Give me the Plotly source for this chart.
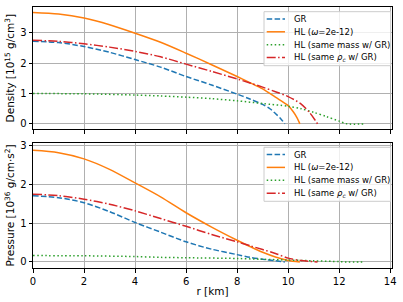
import plotly.graph_objects as go
from plotly.subplots import make_subplots

# ---------------- data ----------------
# Density [1e15 g/cm^3]
r_rho_gr = [0, 1, 2, 3, 4, 5, 6, 7, 8, 8.5, 9, 9.3, 9.5, 9.7, 9.87]
rho_gr = [2.72, 2.68, 2.55, 2.36, 2.12, 1.87, 1.56, 1.28, 0.98, 0.82, 0.64, 0.49, 0.34, 0.18, 0.0]

r_rho_hl = [0, 1, 2, 3, 4, 5, 6, 7, 8, 8.5, 9, 9.5, 10, 10.2, 10.35, 10.46]
rho_hl = [3.67, 3.62, 3.49, 3.27, 2.99, 2.69, 2.33, 1.95, 1.56, 1.36, 1.15, 0.88, 0.60, 0.40, 0.20, 0.0]

r_rho_mass = [0, 2, 4, 5, 6, 7, 8, 9, 10, 10.5, 11, 11.5, 12, 12.3, 13.0]
rho_mass = [1.00, 0.99, 0.95, 0.92, 0.88, 0.83, 0.76, 0.67, 0.58, 0.50, 0.38, 0.24, 0.09, 0.0, 0.0]

r_rho_rhoc = [0, 1, 2, 3, 4, 5, 6, 7, 8, 8.5, 9, 9.5, 10, 10.5, 10.85, 11.05, 11.15]
rho_rhoc = [2.76, 2.72, 2.64, 2.53, 2.39, 2.21, 1.97, 1.73, 1.48, 1.35, 1.21, 1.06, 0.90, 0.66, 0.36, 0.13, 0.0]

# Pressure [1e36 g/cm s^2]
r_p_gr = [0, 1, 2, 3, 4, 5, 6, 7, 8, 8.5, 9, 9.5, 9.87]
p_gr = [1.71, 1.66, 1.53, 1.30, 1.02, 0.77, 0.52, 0.33, 0.19, 0.12, 0.07, 0.03, 0.0]

r_p_hl = [0, 1, 2, 3, 4, 5, 6, 7, 8, 8.5, 9, 9.5, 10, 10.46]
p_hl = [2.88, 2.82, 2.66, 2.39, 2.04, 1.68, 1.27, 0.90, 0.56, 0.40, 0.25, 0.13, 0.04, 0.0]

r_p_mass = [0, 2, 4, 5, 6, 8, 9, 10, 11, 12, 12.3, 13.0]
p_mass = [0.165, 0.16, 0.14, 0.12, 0.11, 0.09, 0.07, 0.05, 0.03, 0.01, 0.0, 0.0]

r_p_rhoc = [0, 1, 2, 3, 4, 5, 6, 7, 8, 8.5, 9, 9.5, 10, 10.5, 11.15]
p_rhoc = [1.75, 1.71, 1.62, 1.49, 1.32, 1.12, 0.92, 0.71, 0.52, 0.42, 0.32, 0.22, 0.10, 0.04, 0.0]

names = ["GR", "HL (<i>ω</i>=2e-12)", "HL (same mass w/ GR)", "HL (same <i>ρ<sub>c</sub></i> w/ GR)"]
colors = ["#1f77b4", "#ff7f0e", "#2ca02c", "#d62728"]
dashes = ["5.5px,2.4px", "solid", "1.5px,2.5px", "9px,2.4px,1.5px,2.4px"]

x_ticks = [0, 2, 4, 6, 8, 10, 12, 14]
y_ticks = [0, 1, 2, 3]

# ---------------- figure ----------------
W, H = 403, 302
ML, MR, MT, MB = 33, 11, 7, 34
fig = make_subplots(rows=2, cols=1, shared_xaxes=True, vertical_spacing=0.05)

top_series = [(r_rho_gr, rho_gr), (r_rho_hl, rho_hl), (r_rho_mass, rho_mass), (r_rho_rhoc, rho_rhoc)]
bot_series = [(r_p_gr, p_gr), (r_p_hl, p_hl), (r_p_mass, p_mass), (r_p_rhoc, p_rhoc)]

for row, series in ((1, top_series), (2, bot_series)):
    for i, (xs, ys) in enumerate(series):
        fig.add_trace(go.Scatter(x=xs, y=ys, mode="lines", name=names[i], showlegend=False,
                                 line=dict(color=colors[i], width=1.5, dash=dashes[i],
                                           shape="spline", smoothing=0.8),
                                 hoverinfo="skip"), row=row, col=1)

font = dict(family="DejaVu Sans", size=10, color="black")
title_font = dict(family="DejaVu Sans", size=10.5, color="black")
axis_common = dict(showline=True, linecolor="black", linewidth=1, mirror=True,
                   ticks="outside", ticklen=3.5, tickwidth=1, tickcolor="black",
                   showgrid=True, gridcolor="#b0b0b0", gridwidth=1, zeroline=False,
                   tickfont=font, automargin=False)

fig.update_xaxes(range=[0, 14.07], tickvals=x_ticks, **axis_common)
fig.update_xaxes(showticklabels=False, row=1, col=1)
fig.update_xaxes(title=dict(text="r [km]", font=title_font, standoff=2), row=2, col=1)
fig.update_yaxes(tickvals=y_ticks, **axis_common)
fig.update_yaxes(range=[-0.1835, 3.8535], domain=[0.531, 1.0],
                 title=dict(text="Density [10<sup>15</sup> g/cm<sup>3</sup>]",
                            font=title_font, standoff=3), row=1, col=1)
fig.update_yaxes(range=[-0.155, 3.07], domain=[0.0, 0.479],
                 title=dict(text="Pressure [10<sup>36</sup> g/cm·s<sup>2</sup>]",
                            font=title_font, standoff=3), row=2, col=1)

# ---------------- legends (drawn as boxes, line samples and text) ----------------
PW = W - ML - MR
PH = H - MT - MB


def px_x(p):
    return (p - ML) / PW


def px_y(p):
    return (H - MB - p) / PH


shapes = []
annotations = []
for box_top in (11.7, 147.3):
    shapes.append(dict(type="rect", xref="paper", yref="paper",
                       x0=px_x(264), x1=px_x(390.7), y0=px_y(box_top + 54), y1=px_y(box_top),
                       fillcolor="rgba(255,255,255,0.8)", line=dict(color="#cccccc", width=1),
                       layer="above"))
    for i in range(4):
        yy = box_top + 7.2 + 12.9 * i
        shapes.append(dict(type="line", xref="paper", yref="paper",
                           x0=px_x(266.7), x1=px_x(285), y0=px_y(yy), y1=px_y(yy),
                           line=dict(color=colors[i], width=1.5, dash=dashes[i]), layer="above"))
        annotations.append(dict(text=names[i], xref="paper", yref="paper",
                                x=px_x(291.5), y=px_y(yy), xanchor="left", yanchor="middle",
                                showarrow=False, font=dict(family="DejaVu Sans", size=8.5, color="black")))

fig.update_layout(width=W, height=H, margin=dict(l=ML, r=MR, t=MT, b=MB),
                  paper_bgcolor="white", plot_bgcolor="white", font=font,
                  showlegend=False, shapes=shapes, annotations=annotations, hovermode=False)

fig.write_html("out.html", config={"displayModeBar": False, "staticPlot": True},
               post_script="document.body.style.margin='0';document.body.style.padding='0';"
                           "document.documentElement.style.overflow='hidden';")
